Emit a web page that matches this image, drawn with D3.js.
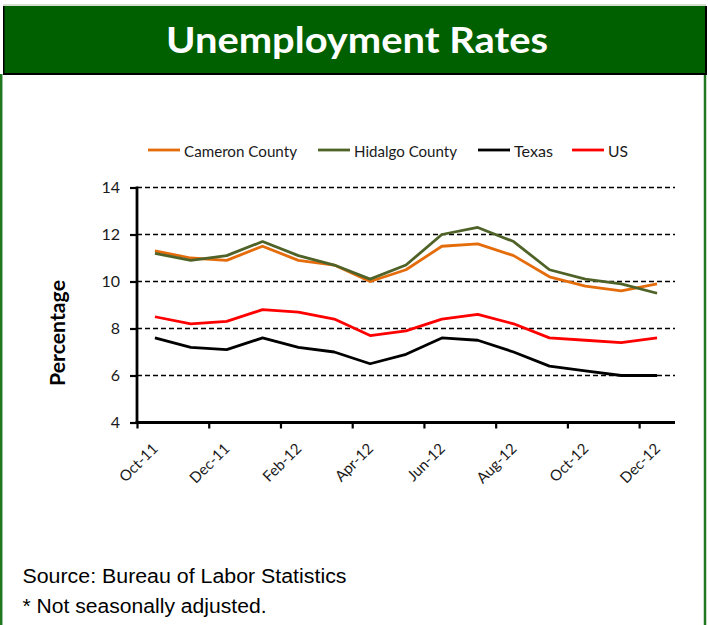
<!DOCTYPE html>
<html>
<head>
<meta charset="utf-8">
<script src="https://cdn.jsdelivr.net/npm/d3@7"></script>
<style>
  html, body { margin: 0; padding: 0; background: #ffffff; }
  svg { display: block; }
</style>
</head>
<body>
<svg id="chart" width="708" height="625"></svg>
<script>
// ---- data ----
const months = ["Oct-11","Nov-11","Dec-11","Jan-12","Feb-12","Mar-12","Apr-12","May-12",
                "Jun-12","Jul-12","Aug-12","Sep-12","Oct-12","Nov-12","Dec-12"];
const cameron = [11.3, 11.0, 10.9, 11.5, 10.9, 10.7, 10.0, 10.5, 11.5, 11.6, 11.1, 10.2, 9.8, 9.6, 9.9];
const hidalgo = [11.2, 10.9, 11.1, 11.7, 11.1, 10.7, 10.1, 10.7, 12.0, 12.3, 11.7, 10.5, 10.1, 9.9, 9.5];
const texas   = [7.6, 7.2, 7.1, 7.6, 7.2, 7.0, 6.5, 6.9, 7.6, 7.5, 7.0, 6.4, 6.2, 6.0, 6.0];
const us      = [8.5, 8.2, 8.3, 8.8, 8.7, 8.4, 7.7, 7.9, 8.4, 8.6, 8.2, 7.6, 7.5, 7.4, 7.6];
const seriesNames = ["Cameron County", "Hidalgo County", "Texas", "US"];
const yTicks = [4, 6, 8, 10, 12, 14];
const xLabelMonths = ["Oct-11","Dec-11","Feb-12","Apr-12","Jun-12","Aug-12","Oct-12","Dec-12"];
const titleText = "Unemployment Rates";
const yTitle = "Percentage";
const notes = ["Source: Bureau of Labor Statistics", "* Not seasonally adjusted."];

// ---- styles ----
const colors = ["#E46C0A", "#4F6228", "#000000", "#FF0000"];
const seriesValues = [cameron, hidalgo, texas, us];
const series = seriesNames.map((n, i) => ({ name: n, values: seriesValues[i], color: colors[i] }));

const svg = d3.select("#chart");
const FONT = "Lato, 'Open Sans', sans-serif";

function fit(sel, w) {
  sel.attr("textLength", w).attr("lengthAdjust", "spacingAndGlyphs");
  return sel;
}

// ---- frame & header ----
const frameGreen = "#217821";
svg.append("line").attr("x1", 1.2).attr("x2", 1.2).attr("y1", 74).attr("y2", 625)
  .attr("stroke", frameGreen).attr("stroke-width", 2.5);
svg.append("line").attr("x1", 705).attr("x2", 705).attr("y1", 74).attr("y2", 625)
  .attr("stroke", frameGreen).attr("stroke-width", 2.5);
svg.append("line").attr("x1", 3).attr("x2", 706).attr("y1", 5).attr("y2", 5)
  .attr("stroke", "#a9c2a2").attr("stroke-width", 1.2);
svg.append("rect").attr("x", 3).attr("y", 6).attr("width", 704).attr("height", 69).attr("fill", "#000");
svg.append("rect").attr("x", 4.5).attr("y", 6).attr("width", 700.5).attr("height", 67).attr("fill", "#006000");

fit(svg.append("text")
  .attr("x", 357).attr("y", 53)
  .attr("text-anchor", "middle")
  .attr("fill", "#ffffff")
  .style("font-family", FONT).style("font-weight", "bold").style("font-size", "36px")
  .text(titleText), 382);

// ---- scales ----
const plot = { left: 137, right: 675, top: 187.5, bottom: 422.5 };
const x = d3.scaleBand().domain(months).range([plot.left, plot.right]);
const xIdx = d3.scaleLinear().domain([0, months.length]).range([plot.left, plot.right]);
const y = d3.scaleLinear().domain([4, 14]).range([plot.bottom, plot.top]);
const cx = m => x(m) + x.bandwidth() / 2;

// ---- gridlines ----
svg.append("g").selectAll("line")
  .data(yTicks.filter(t => t > 4))
  .join("line")
  .attr("x1", plot.left).attr("x2", plot.right)
  .attr("y1", d => y(d)).attr("y2", d => y(d))
  .attr("stroke", "#000").attr("stroke-width", 1.6)
  .attr("stroke-dasharray", "5,3");

// ---- axes ----
const yAxis = svg.append("g")
  .attr("transform", `translate(${plot.left},0)`)
  .call(d3.axisLeft(y).tickValues(yTicks).tickSize(7).tickPadding(10).tickFormat(d3.format("d")));
yAxis.select(".domain").remove();
yAxis.selectAll(".tick line").attr("stroke", "#000").attr("stroke-width", 2.2);
yAxis.selectAll(".tick text")
  .style("font-family", FONT).style("font-size", "16px").attr("fill", "#1a1a1a");
svg.append("line").attr("x1", plot.left).attr("x2", plot.left)
  .attr("y1", plot.top - 1).attr("y2", plot.bottom + 1.4)
  .attr("stroke", "#000").attr("stroke-width", 2.8);

const xAxis = svg.append("g")
  .attr("transform", `translate(0,${plot.bottom})`)
  .call(d3.axisBottom(xIdx).tickValues(d3.range(0, months.length, 2)).tickSize(6).tickFormat(""));
xAxis.select(".domain").remove();
xAxis.selectAll(".tick line").attr("stroke", "#000").attr("stroke-width", 2.2);
svg.append("line").attr("x1", plot.left - 1.4).attr("x2", plot.right)
  .attr("y1", plot.bottom).attr("y2", plot.bottom)
  .attr("stroke", "#000").attr("stroke-width", 2.8);

svg.append("g").selectAll("text")
  .data(xLabelMonths)
  .join("text")
  .attr("transform", d => `translate(${cx(d) + 4},${plot.bottom + 27}) rotate(-45)`)
  .attr("text-anchor", "end")
  .style("font-family", FONT).style("font-size", "15px").attr("fill", "#1a1a1a")
  .text(d => d);

fit(svg.append("text")
  .attr("transform", `translate(65,333) rotate(-90)`)
  .attr("text-anchor", "middle")
  .style("font-family", FONT).style("font-weight", "bold").style("font-size", "20px")
  .attr("fill", "#000")
  .text(yTitle), 106);

// ---- lines ----
const line = d3.line().x((d, i) => cx(months[i])).y(d => y(d));
svg.append("g").selectAll("path")
  .data(series)
  .join("path")
  .attr("d", d => line(d.values))
  .attr("fill", "none")
  .attr("stroke", d => d.color)
  .attr("stroke-width", 2.8)
  .attr("stroke-linejoin", "round");

// ---- legend ----
const legendItems = [
  { x: 148, w: 113 },
  { x: 318, w: 103 },
  { x: 478, w: 39 },
  { x: 572, w: 20 }
];
const lg = svg.append("g").selectAll("g")
  .data(series)
  .join("g")
  .attr("transform", (d, i) => `translate(${legendItems[i].x},150)`);
lg.append("line").attr("x1", 0).attr("x2", 32).attr("y1", 0).attr("y2", 0)
  .attr("stroke", d => d.color).attr("stroke-width", 2.8);
lg.append("text").attr("x", 36).attr("y", 6.5)
  .style("font-family", FONT).style("font-size", "16px").attr("fill", "#1a1a1a")
  .text(d => d.name)
  .each(function(d, i) { fit(d3.select(this), legendItems[i].w); });

// ---- notes ----
const noteWidths = [324, 244];
svg.append("g").selectAll("text")
  .data(notes)
  .join("text")
  .attr("x", 22.5).attr("y", (d, i) => 583 + i * 30)
  .style("font-family", "'Liberation Sans', Arial, sans-serif").style("font-size", "20px")
  .attr("fill", "#000")
  .text(d => d)
  .each(function(d, i) { fit(d3.select(this), noteWidths[i]); });
</script>
</body>
</html>
